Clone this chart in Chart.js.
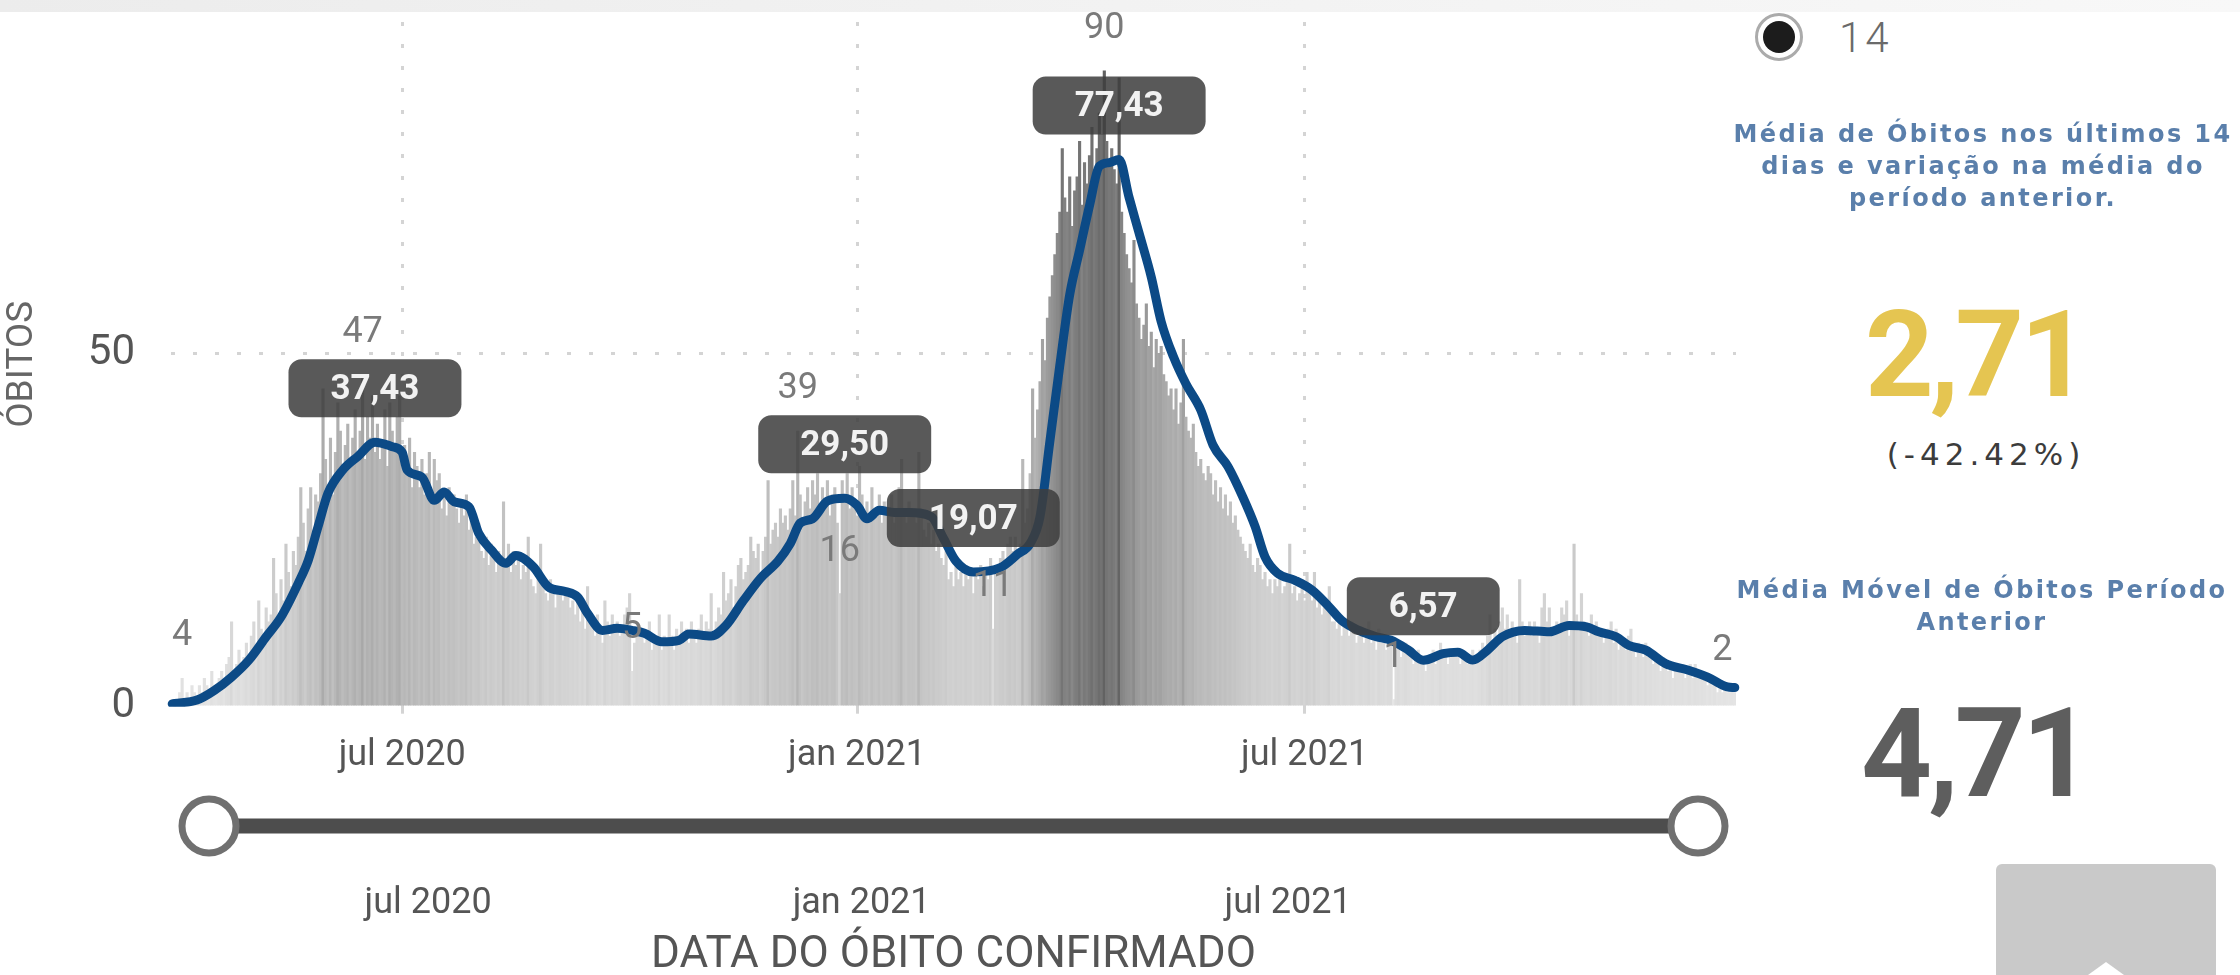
<!DOCTYPE html>
<html lang="pt-BR">
<head>
<meta charset="utf-8">
<script src="https://cdn.jsdelivr.net/npm/chart.js@4.4.1/dist/chart.umd.min.js"></script>
<style>
html,body{margin:0;padding:0;background:#fff;}
body{width:2240px;height:975px;position:relative;overflow:hidden;font-family:Roboto,"DejaVu Sans",sans-serif;}
#topband{position:absolute;left:0;top:0;width:2240px;height:12px;background:linear-gradient(to right,#ececec,#f8f8f8);}
#c1{position:absolute;left:0;top:0;}
#c2{position:absolute;left:0;top:790px;}
.abs{position:absolute;white-space:nowrap;}
.blue{font-family:"DejaVu Sans",sans-serif;font-weight:bold;font-size:24px;letter-spacing:2.4px;color:#5a7fab;text-align:center;line-height:32px;}
.big{font-family:Roboto,sans-serif;font-weight:700;text-align:center;line-height:140px;}
</style>
</head>
<body>
<div id="topband"></div>
<canvas id="c1" width="1750" height="790"></canvas>
<canvas id="c2" width="1760" height="185"></canvas>

<!-- right panel -->
<div class="abs" style="left:1755px;top:13px;width:48px;height:48px;border-radius:50%;border:3px solid #ababab;box-sizing:border-box;background:#fff;"></div>
<div class="abs" style="left:1763px;top:21px;width:32px;height:32px;border-radius:50%;background:#1c1c1c;"></div>
<div class="abs" style="left:1839px;top:13px;line-height:50px;font-size:42px;font-family:Roboto,sans-serif;font-weight:300;letter-spacing:3px;color:#6a6a6a;">14</div>

<div class="abs blue" style="left:1733px;top:118px;width:500px;">Média de Óbitos nos últimos 14<br>dias e variação na média do<br>período anterior.</div>
<div class="abs big" style="left:1775px;top:285px;width:400px;font-size:120px;letter-spacing:-4px;color:#e5c551;">2,71</div>
<div class="abs" style="left:1786px;top:434px;width:400px;text-align:center;line-height:40px;font-size:31px;font-family:'DejaVu Sans',sans-serif;letter-spacing:5px;color:#3c3c3c;">(-42.42%)</div>
<div class="abs blue" style="left:1732px;top:574px;width:500px;">Média Móvel de Óbitos Período<br>Anterior</div>
<div class="abs big" style="left:1775px;top:684px;width:400px;font-size:124px;letter-spacing:-4px;color:#5e5e5e;">4,71</div>

<div class="abs" style="left:1996px;top:864px;width:220px;height:111px;background:#c9c9c9;border-radius:6px 6px 0 0;"></div>
<div class="abs" style="left:2088px;top:962px;width:0;height:0;border-left:18px solid transparent;border-right:18px solid transparent;border-bottom:13px solid #fff;"></div>

<script>
// ---------------- DATA ----------------
const startDate = '2020-03-30';
// daily confirmed deaths (one value per day from startDate)
const dailyDeaths = [
 1,0,1,2,4,1,2,1,3,2,
 1,3,2,4,3,2,5,3,2,4,
 5,3,6,7,12,4,6,8,5,7,
 9,7,10,12,8,15,11,9,14,12,
 13,21,16,12,18,15,23,19,17,22,
 20,24,31,26,22,28,31,25,30,29,
 33,45,35,31,38,30,36,43,39,33,
 37,40,34,38,42,36,39,47,35,41,
 38,44,36,40,35,37,42,34,43,39,
 36,41,44,34,37,33,38,31,36,34,
 31,35,30,33,36,29,35,32,33,28,
 30,27,31,29,30,28,26,29,27,30,
 25,27,23,24,26,22,21,24,20,23,
 21,19,22,20,29,21,23,19,22,20,
 21,18,20,19,24,18,17,16,19,23,
 18,16,15,18,17,14,16,17,15,16,
 16,14,15,13,15,12,14,11,17,13,
 12,10,13,11,9,15,12,10,13,11,
 12,10,11,13,14,16,5,9,11,10,
 11,9,10,12,8,10,9,13,8,10,
 9,13,10,8,11,9,12,10,11,9,
 12,10,9,11,13,10,12,11,16,10,
 12,14,13,19,15,16,18,14,17,20,
 21,18,19,20,24,22,21,23,19,22,
 24,32,23,25,26,24,28,26,27,25,
 28,32,27,39,30,26,29,31,28,32,
 30,33,28,31,29,32,27,30,31,26,
 16,32,30,33,28,31,29,27,34,30,
 27,29,26,31,28,27,30,26,29,28,
 27,30,26,28,31,35,27,26,29,28,
 28,26,36,27,25,24,26,23,25,22,
 23,21,20,22,18,19,17,20,18,19,
 17,20,18,19,16,19,18,20,17,19,
 18,21,11,20,19,21,22,20,23,24,
 22,24,21,23,35,26,28,33,45,38,
 42,46,52,49,55,58,61,64,67,70,
 79,72,70,75,68,73,75,80,71,77,
 74,78,82,76,79,84,81,90,80,77,
 79,76,74,89,70,67,64,62,60,66,
 57,55,52,54,57,51,53,48,52,50,
 51,47,46,44,45,42,45,40,43,52,
 41,39,38,40,36,34,35,33,32,34,
 33,30,32,29,31,28,30,27,29,26,
 27,25,24,23,22,21,23,20,19,21,
 20,18,19,17,18,16,18,17,19,16,
 17,18,23,16,17,15,16,18,15,19,
 17,15,19,14,15,13,14,15,17,12,
 12,11,13,10,12,11,10,12,11,9,
 10,11,9,10,12,9,10,8,11,9,
 9,8,9,10,1,8,9,7,8,9,
 8,7,6,7,8,6,7,5,6,7,
 8,6,7,9,7,8,6,7,8,7,
 7,6,8,7,6,7,8,6,7,8,
 9,8,10,13,9,11,10,12,14,11,
 13,10,12,11,9,18,12,10,11,12,
 10,12,11,9,14,16,12,14,11,10,
 12,11,14,13,15,10,12,23,13,11,
 16,12,11,10,13,11,12,10,11,9,
 10,11,12,9,11,8,10,9,8,10,
 11,8,7,9,8,7,9,7,8,6,
 7,6,5,7,6,5,6,4,6,5,
 5,6,4,5,6,4,6,5,4,5,
 4,3,4,3,4,2,3,2,3,2,
 2,3,2
];
// moving average of deaths, read at these day offsets from startDate
const avgDays = [0,1,10,17,24,31,38,44,51,55,59,63,69,75,82,89,93,95,101,106,110,114,120,124,129,135,139,146,152,159,164,168,174,180,186,191,198,205,209,218,224,231,238,245,250,254,259,265,272,277,281,286,292,298,307,312,317,324,335,342,347,351,355,359,363,367,371,375,379,383,387,391,396,400,405,410,416,421,427,433,438,442,447,454,461,468,473,480,487,493,500,506,514,520,526,532,538,547,557,565,572,577,584,589,596,604,613,621,629,632];
const avgValues = [0.4,0.45,0.95,2.3,4.2,6.6,9.9,12.7,17.5,20.7,25.5,30.2,33.5,35.4,37.43,36.8,36,33.5,32.5,29.2,30.4,29,28.3,24.5,22.2,20.3,21.4,19.8,17,16.3,15.5,13.2,10.8,11.1,10.8,10.4,9.2,9.4,10.3,10,11.5,15,18.2,20.6,23.1,26,26.6,29.1,29.5,28.5,26.6,27.8,27.5,27.5,26.9,23.8,20.6,19.07,19.7,21.6,23.1,26.9,37.6,48.3,58.3,64.6,70.9,76.5,77,77.43,72.1,67.1,60.8,54.5,49.5,45.7,42,37,34,29.7,25.5,21.2,18.9,17.9,16.5,14.1,12.2,10.8,9.9,9.4,8,6.57,7.5,7.7,6.6,8,9.9,10.8,10.6,11.5,11.3,10.6,9.9,8.7,8,6.1,5.2,4.2,2.8,2.71];
// highlighted moving-average labels
const avgLabelDays = [82, 272, 324, 383, 506];
const avgLabelValues = [37.43, 29.50, 19.07, 77.43, 6.57];
// days whose daily value is labelled
const barLabelDays = [4, 77, 186, 253, 270, 332, 377, 494, 627];
// axis ticks
const yTicks = [0, 50];
const monthTickDates = ['2020-07-01', '2021-01-01', '2021-07-01'];
const monthTickLabels = ['jul 2020', 'jan 2021', 'jul 2021'];

// ---------------- BUILD ----------------
const N = dailyDeaths.length;
const [sy, sm, sd] = startDate.split('-').map(Number);
const dates = [];
for (let i = 0; i < N; i++) dates.push(new Date(Date.UTC(sy, sm - 1, sd + i)).toISOString().slice(0, 10));
const monthTickIdx = monthTickDates.map(d => dates.indexOf(d));
const lineData = new Array(N).fill(null);
avgDays.forEach((d, k) => { lineData[d] = avgValues[k]; });

Chart.defaults.font.family = 'Roboto';
Chart.defaults.animation = false;

const GRID = '#d4d4d4';
const DASH = [4, 18];

// bar shade deepens with the value (style only)
function barGray(v) {
  const g = Math.round(Math.max(90, 230 - 1.15 * v - 0.0035 * v * v));
  return 'rgb(' + g + ',' + g + ',' + g + ')';
}

const labelPlugin = {
  id: 'pbiLabels',
  afterDatasetsDraw(chart) {
    const { ctx, scales: { x, y } } = chart;
    ctx.save();
    ctx.textAlign = 'center';
    ctx.textBaseline = 'middle';
    ctx.font = '36px Roboto';
    ctx.fillStyle = '#7a7a7a';
    barLabelDays.forEach(d => {
      const v = dailyDeaths[d];
      ctx.fillText(String(v), x.getPixelForValue(d), y.getPixelForValue(v) - 42);
    });
    ctx.font = 'bold 35px Roboto';
    avgLabelDays.forEach((d, k) => {
      const v = avgLabelValues[k];
      const txt = v.toFixed(2).replace('.', ',');
      const w = ctx.measureText(txt).width + 84, h = 58;
      const cx = x.getPixelForValue(d), cy = y.getPixelForValue(v) - 54;
      ctx.fillStyle = 'rgba(62,62,62,0.86)';
      ctx.beginPath();
      ctx.roundRect(cx - w / 2, cy - h / 2, w, h, 13);
      ctx.fill();
      ctx.fillStyle = '#f2f2f2';
      ctx.fillText(txt, cx, cy + 2);
    });
    ctx.restore();
  }
};

new Chart(document.getElementById('c1'), {
  type: 'bar',
  data: {
    labels: dates,
    datasets: [
      {
        type: 'line', data: lineData, order: 0, spanGaps: true,
        borderColor: '#0c4a86', borderWidth: 9, pointRadius: 0, pointHoverRadius: 0,
        cubicInterpolationMode: 'monotone', borderJoinStyle: 'round', borderCapStyle: 'round'
      },
      {
        type: 'bar', data: dailyDeaths, order: 1,
        barPercentage: 1, categoryPercentage: 1,
        backgroundColor: c => barGray(c.raw || 0)
      }
    ]
  },
  options: {
    responsive: false, animation: false, events: [],
    layout: { autoPadding: false, padding: { left: 0, right: 14, top: 22, bottom: 0 } },
    plugins: { legend: { display: false }, tooltip: { enabled: false } },
    scales: {
      x: {
        type: 'category', offset: true,
        afterBuildTicks: s => { s.ticks = monthTickIdx.map(v => ({ value: v })); },
        afterFit: s => { s.height = 83.3; s.paddingLeft = 0; s.paddingRight = 0; },
        ticks: {
          autoSkip: false, maxRotation: 0, padding: 21, color: '#555',
          font: { size: 36 },
          callback: v => monthTickLabels[monthTickIdx.indexOf(v)]
        },
        grid: { offset: false, color: GRID, lineWidth: 3, drawTicks: true, tickLength: 7, tickColor: GRID, tickWidth: 3 },
        border: { display: false, dash: DASH }
      },
      y: {
        min: 0, max: 96.9,
        afterBuildTicks: s => { s.ticks = yTicks.map(v => ({ value: v })); },
        afterFit: s => { s.width = 171; s.paddingTop = 0; s.paddingBottom = 0; },
        ticks: { padding: 36, color: '#555', font: { size: 42 } },
        grid: { color: c => (c.tick && c.tick.value === 50) ? GRID : 'rgba(0,0,0,0)', lineWidth: 3, drawTicks: false },
        border: { display: false, dash: DASH },
        title: { display: true, text: 'ÓBITOS', color: '#666', font: { size: 37, lineHeight: 1.22 }, padding: { top: 0, bottom: 0 } }
      }
    }
  },
  plugins: [labelPlugin]
});

// slider (date range) with its own axis and the x-axis title
new Chart(document.getElementById('c2'), {
  type: 'line',
  data: {
    datasets: [{
      data: [{ x: 0, y: 0 }, { x: N - 1, y: 0 }],
      borderColor: '#4d4d4d', borderWidth: 15,
      pointRadius: 27, pointHoverRadius: 27, pointBorderWidth: 7, pointBorderColor: '#707070', pointBackgroundColor: '#fff',
      clip: false
    }]
  },
  options: {
    responsive: false, animation: false, events: [],
    layout: { autoPadding: false, padding: { left: 209, right: 62, top: 4, bottom: 0 } },
    plugins: { legend: { display: false }, tooltip: { enabled: false } },
    scales: {
      x: {
        type: 'linear', min: 0, max: N - 1,
        afterBuildTicks: s => { s.ticks = monthTickIdx.map(v => ({ value: v })); },
        afterFit: s => { s.height = 117; s.paddingLeft = 0; s.paddingRight = 0; },
        ticks: { padding: 16, color: '#555', font: { size: 36 }, maxRotation: 0, autoSkip: false,
          callback: v => monthTickLabels[monthTickIdx.indexOf(v)] },
        grid: { display: false }, border: { display: false },
        title: { display: true, text: 'DATA DO ÓBITO CONFIRMADO', color: '#555', font: { size: 44, lineHeight: 0.85 }, padding: { top: 0, bottom: 0 } }
      },
      y: { display: false, min: -1, max: 1 }
    }
  }
});
</script>
</body>
</html>
